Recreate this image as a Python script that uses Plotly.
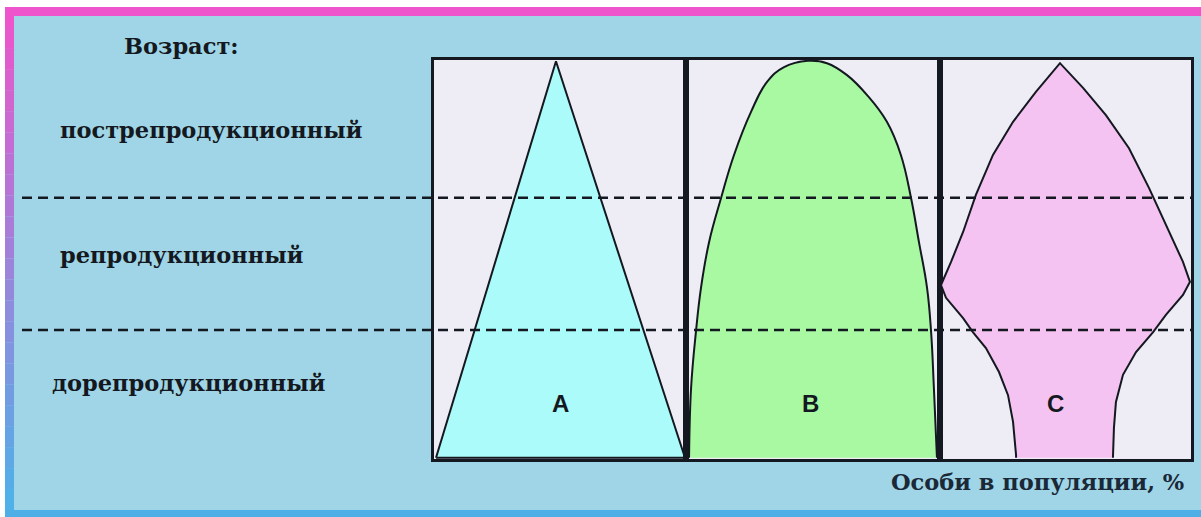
import plotly.graph_objects as go

# --- данные (единицы панели: x 0..100 по ширине, y 0..100 по высоте) ---
age_bounds = [32.3, 65.5]  # границы групп возраста (пунктир)

age_labels = ["пострепродукционный", "репродукционный", "дорепродукционный"]
age_title = "Возраст:"
x_title = "Особи в популяции, %"
panel_names = ["A", "B", "C"]

# A - растущая популяция
a_x = [0.8, 48.4, 99.6, 0.8]
a_y = [0.3, 99.7, 0.3, 0.3]

# B - стабильная популяция
b_x = [1.2, 2.0, 3.9, 5.9, 9.1, 13.8, 18.9, 25.6, 31.9, 38.6, 48.0, 55.5,
       63.4, 71.3, 79.1, 84.6, 88.6, 91.7, 94.9, 96.5, 97.6, 98.8]
b_y = [0.3, 17.8, 31.8, 42.9, 54.4, 65.4, 76.2, 87.0, 94.5, 98.2, 99.8, 99.2,
       96.2, 91.2, 84.5, 76.2, 65.4, 54.4, 42.9, 31.8, 17.8, 0.3]

# C - сокращающаяся популяция
c_x = [30.3, 30.3, 29.1, 27.1, 23.5, 18.3, 13.1, 9.2, 2.4, 0.4, 4.4, 9.2,
       14.3, 21.1, 29.1, 38.2, 47.8, 57.0, 66.1, 75.3, 83.3, 91.2, 96.8,
       99.6, 96.8, 90.0, 84.9, 78.1, 72.9, 70.1, 69.3, 68.9]
c_y = [0.3, 1.0, 9.3, 16.0, 21.8, 27.8, 31.8, 35.3, 40.4, 43.6, 49.4, 56.9,
       66.2, 76.2, 84.5, 92.0, 99.2, 93.0, 86.2, 77.9, 67.9, 56.9, 49.4,
       44.4, 41.1, 36.1, 31.8, 26.8, 21.1, 14.3, 7.8, 0.3]

W, H = 1201, 517
BG = "#9fd5e6"
PANEL_BG = "#eeedf6"
INK = "#141820"
SERIF = "DejaVu Serif"


def px(x):
    return x / W


def py(y):
    return 1 - y / H


fig = go.Figure()

shapes_data = [
    (a_x, a_y, "#aafbf9", "linear"),
    (b_x, b_y, "#a8f9a2", "spline"),
    (c_x, c_y, "#f5c3f1", "linear"),
]
for i, (xs, ys, color, shape) in enumerate(shapes_data):
    sfx = "" if i == 0 else str(i + 1)
    fig.add_trace(go.Scatter(
        x=xs, y=ys, xaxis="x" + sfx, yaxis="y" + sfx,
        mode="lines", fill="toself", fillcolor=color,
        line=dict(color=INK, width=2, shape=shape, smoothing=1.2),
        hoverinfo="skip", showlegend=False,
    ))

# панели
edges = [434, 686, 940, 1191]
ydom = [py(459), py(60)]
axis_style = dict(range=[0, 100], showgrid=False, zeroline=False,
                  showticklabels=False, ticks="", showline=True, mirror=True,
                  linecolor=INK, linewidth=2.5, fixedrange=True)
layout_axes = {}
for i in range(3):
    sfx = "" if i == 0 else str(i + 1)
    layout_axes["xaxis" + sfx] = dict(axis_style, domain=[px(edges[i]), px(edges[i + 1])],
                                      anchor="y" + sfx)
    layout_axes["yaxis" + sfx] = dict(axis_style, domain=ydom, anchor="x" + sfx)

shapes = []
# рамка картинки
shapes.append(dict(type="rect", xref="paper", yref="paper", x0=0, x1=1, y0=py(7), y1=1,
                   fillcolor="white", line_width=0, layer="below"))
shapes.append(dict(type="rect", xref="paper", yref="paper", x0=0, x1=px(5), y0=0, y1=1,
                   fillcolor="white", line_width=0, layer="below"))
shapes.append(dict(type="rect", xref="paper", yref="paper", x0=px(5), x1=1, y0=py(16), y1=py(7),
                   fillcolor="#ee55cc", line_width=0, layer="below"))
n = 24
top_c, bot_c = (238, 85, 204), (80, 176, 232)
for k in range(n):
    t = k / (n - 1)
    col = tuple(int(top_c[j] + (bot_c[j] - top_c[j]) * t) for j in range(3))
    y0 = 7 + (510 - 7) * k / n
    y1 = 7 + (510 - 7) * (k + 1) / n
    shapes.append(dict(type="rect", xref="paper", yref="paper", x0=px(5), x1=px(14),
                       y0=py(y1), y1=py(y0), fillcolor="rgb(%d,%d,%d)" % col,
                       line_width=0, layer="below"))
shapes.append(dict(type="rect", xref="paper", yref="paper", x0=px(5), x1=1, y0=0, y1=py(510),
                   fillcolor="#4eaee6", line_width=0, layer="below"))

# пунктир границ возрастов
for b in age_bounds:
    shapes.append(dict(type="line", xref="paper", yref="y", x0=px(22), x1=px(1191),
                       y0=b, y1=b, line=dict(color=INK, width=2.5, dash="10px,6px"),
                       layer="above"))

label_font = dict(family=SERIF, size=22.5, color=INK, weight="bold")
annotations = [
    dict(text=age_title, x=px(122), y=py(46), xanchor="left", yanchor="middle",
         font=label_font),
    dict(text=x_title, x=px(1186), y=py(482), xanchor="right", yanchor="middle",
         font=dict(label_font, color="#1a2838")),
]
for label, (lx, ly) in zip(age_labels, [(58, 130), (58, 255), (50, 383)]):
    annotations.append(dict(text=label, x=px(lx), y=py(ly), xanchor="left",
                            yanchor="middle", font=label_font))
for i, name in enumerate(panel_names):
    sfx = "" if i == 0 else str(i + 1)
    annotations.append(dict(text="<b>%s</b>" % name, x=[50, 49.2, 46.2][i], y=13.8,
                            xref="x" + sfx, yref="y" + sfx, showarrow=False,
                            font=dict(family="Liberation Sans", size=24, color=INK)))
for a in annotations:
    a.setdefault("xref", "paper")
    a.setdefault("yref", "paper")
    a["showarrow"] = False

fig.update_layout(
    width=W, height=H, margin=dict(l=0, r=0, t=0, b=0),
    paper_bgcolor=BG, plot_bgcolor=PANEL_BG,
    shapes=shapes, annotations=annotations, showlegend=False,
    **layout_axes,
)

fig.write_html("out.html", config={"displayModeBar": False},
               post_script="document.body.style.margin='0';")
